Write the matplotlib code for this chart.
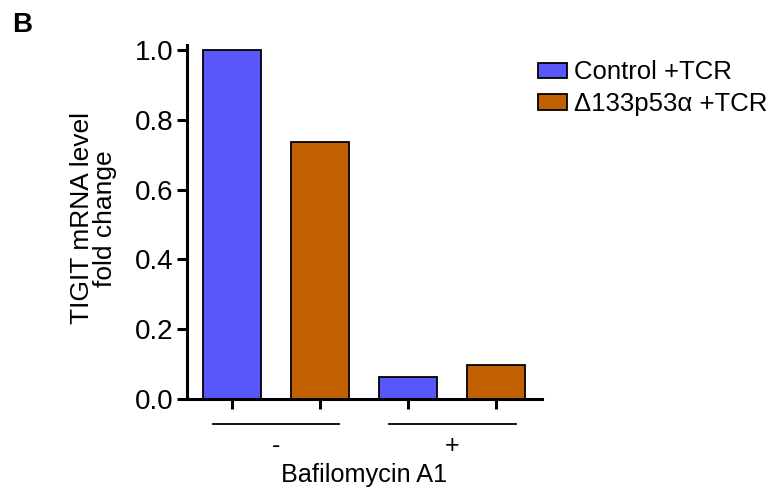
import numpy as np
import matplotlib.pyplot as plt

plt.rcParams['font.family'] = ['Liberation Sans', 'DejaVu Sans']

# Data
series = ['Control +TCR', 'Δ133p53α +TCR']
colors = ['#5757FA', '#C06000']
groups = ['-', '+']
values = {
    'Control +TCR': [1.0, 0.063],
    'Δ133p53α +TCR': [0.736, 0.097],
}

fig = plt.figure(figsize=(7.76, 4.88), dpi=100)
ax = fig.add_axes([0.241, 0.1824, 0.4575, 0.7254])

pos = {'Control +TCR': [0, 2], 'Δ133p53α +TCR': [1, 3]}
for name, c in zip(series, colors):
    ax.bar(pos[name], values[name], width=0.66, color=c, edgecolor='black',
           linewidth=1.3, label=name, zorder=2)

ax.set_xlim(-0.51, 3.52)
ax.set_ylim(0, 1.015)
ax.set_yticks([0.0, 0.2, 0.4, 0.6, 0.8, 1.0])
ax.set_yticklabels(['0.0', '0.2', '0.4', '0.6', '0.8', '1.0'])
ax.set_xticks([0, 1, 2, 3])
ax.set_xticklabels([])
ax.tick_params(axis='both', width=2.2, length=7, labelsize=20, pad=3)
for s in ['top', 'right']:
    ax.spines[s].set_visible(False)
for s in ['left', 'bottom']:
    ax.spines[s].set_linewidth(2.2)

ax.set_ylabel('TIGIT mRNA level\nfold change', fontsize=19, linespacing=0.95)
ax.yaxis.set_label_coords(-0.196, 0.51)

# group lines and labels below the axis
trans = ax.get_xaxis_transform()
for i, g in enumerate(groups):
    x0, x1 = 2 * i - 0.22, 2 * i + 1.22
    ax.plot([x0, x1], [-0.07, -0.07], color='black', lw=1.3,
            transform=trans, clip_on=False)
    ax.text(2 * i + 0.5, -0.1, g, transform=trans, ha='center', va='top',
            fontsize=18)
ax.text(1.5, -0.18, 'Bafilomycin A1', transform=trans, ha='center',
        va='top', fontsize=18.2)

ax.legend(loc='upper left', bbox_to_anchor=(0.946, 1.0), frameon=False,
          fontsize=18.5, handlelength=1.1, handleheight=0.55,
          handletextpad=0.3, labelspacing=0.3, borderaxespad=0.2)

fig.text(0.016, 0.935, 'B', fontsize=20, fontweight='bold')

fig.savefig('out.png', dpi=100)
